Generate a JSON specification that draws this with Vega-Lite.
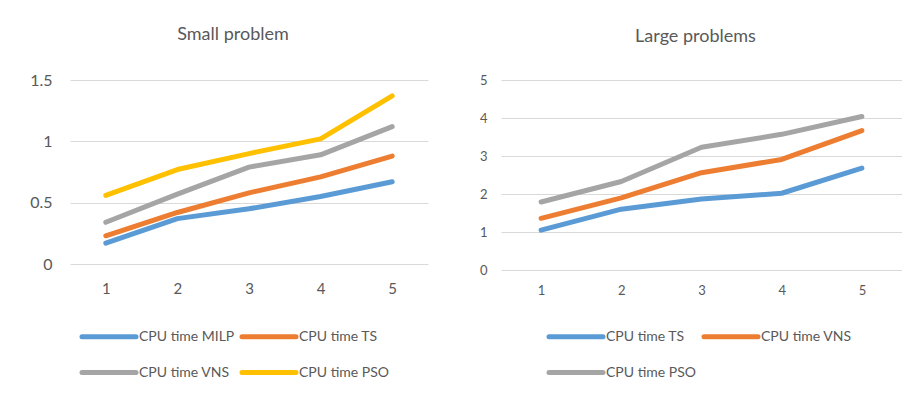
{
  "$schema": "https://vega.github.io/schema/vega-lite/v6.json",
  "padding": {"left": 0, "top": 26, "right": 0, "bottom": 0},
  "background": "white",
  "datasets": {
    "small": [
      {"x": 1, "series": "CPU time MILP", "value": 0.17},
      {"x": 2, "series": "CPU time MILP", "value": 0.37},
      {"x": 3, "series": "CPU time MILP", "value": 0.45},
      {"x": 4, "series": "CPU time MILP", "value": 0.55},
      {"x": 5, "series": "CPU time MILP", "value": 0.67},
      {"x": 1, "series": "CPU time TS", "value": 0.23},
      {"x": 2, "series": "CPU time TS", "value": 0.42},
      {"x": 3, "series": "CPU time TS", "value": 0.58},
      {"x": 4, "series": "CPU time TS", "value": 0.71},
      {"x": 5, "series": "CPU time TS", "value": 0.88},
      {"x": 1, "series": "CPU time VNS", "value": 0.34},
      {"x": 2, "series": "CPU time VNS", "value": 0.57},
      {"x": 3, "series": "CPU time VNS", "value": 0.79},
      {"x": 4, "series": "CPU time VNS", "value": 0.89},
      {"x": 5, "series": "CPU time VNS", "value": 1.12},
      {"x": 1, "series": "CPU time PSO", "value": 0.56},
      {"x": 2, "series": "CPU time PSO", "value": 0.77},
      {"x": 3, "series": "CPU time PSO", "value": 0.90},
      {"x": 4, "series": "CPU time PSO", "value": 1.02},
      {"x": 5, "series": "CPU time PSO", "value": 1.37}
    ],
    "large": [
      {"x": 1, "series": "CPU time TS", "value": 1.05},
      {"x": 2, "series": "CPU time TS", "value": 1.60},
      {"x": 3, "series": "CPU time TS", "value": 1.87},
      {"x": 4, "series": "CPU time TS", "value": 2.02},
      {"x": 5, "series": "CPU time TS", "value": 2.68},
      {"x": 1, "series": "CPU time VNS", "value": 1.36},
      {"x": 2, "series": "CPU time VNS", "value": 1.90},
      {"x": 3, "series": "CPU time VNS", "value": 2.56},
      {"x": 4, "series": "CPU time VNS", "value": 2.91},
      {"x": 5, "series": "CPU time VNS", "value": 3.67},
      {"x": 1, "series": "CPU time PSO", "value": 1.79},
      {"x": 2, "series": "CPU time PSO", "value": 2.33},
      {"x": 3, "series": "CPU time PSO", "value": 3.23},
      {"x": 4, "series": "CPU time PSO", "value": 3.57},
      {"x": 5, "series": "CPU time PSO", "value": 4.04}
    ]
  },
  "spacing": 0,
  "config": {
    "font": "Lato",
    "view": {"stroke": null},
    "title": {"font": "Lato", "fontSize": 18, "fontWeight": "normal", "color": "#595959"},
    "axis": {"labelFont": "Lato", "labelColor": "#595959", "domain": false, "ticks": false, "title": null, "gridColor": "#D9D9D9", "gridWidth": 1.2},
    "legend": {"labelFont": "Lato", "labelColor": "#595959", "labelFontSize": 14, "title": null}
  },
  "resolve": {"scale": {"color": "independent"}, "legend": {"color": "independent"}},
  "hconcat": [
    {
      "width": 358,
      "height": 184,
      "title": {"text": "Small problem", "anchor": "middle", "offset": 28, "dx": -16},
      "data": {"name": "small"},
      "mark": {"type": "line", "strokeWidth": 5, "strokeCap": "round", "strokeJoin": "round"},
      "encoding": {
        "x": {"field": "x", "type": "ordinal", "scale": {"type": "point", "padding": 0.5},
              "axis": {"labelAngle": 0, "labelFontSize": 15, "labelPadding": 17, "grid": false}},
        "y": {"field": "value", "type": "quantitative", "scale": {"domain": [0, 1.5], "nice": false},
              "axis": {"values": [0, 0.5, 1, 1.5], "format": "~g", "labelFontSize": 16, "labelPadding": 18, "minExtent": 70, "grid": true}},
        "color": {"field": "series", "type": "nominal",
                  "scale": {"domain": ["CPU time MILP", "CPU time TS", "CPU time VNS", "CPU time PSO"],
                            "range": ["#5B9BD5", "#ED7D31", "#A5A5A5", "#FFC000"]},
                  "legend": {"orient": "none", "legendX": 29.5, "legendY": 247, "direction": "horizontal", "columns": 2,
                             "symbolType": "M-4,0H4", "symbolSize": 182.25, "symbolStrokeWidth": 5, "rowPadding": 15, "columnPadding": -3,
                             "labelOffset": 20.5,
                             "encode": {"symbols": {"update": {"strokeCap": {"value": "round"}, "fill": {"value": "transparent"}}}}}}
      }
    },
    {
      "width": 401,
      "height": 190,
      "title": {"text": "Large problems", "anchor": "middle", "offset": 28, "dx": -6},
      "data": {"name": "large"},
      "mark": {"type": "line", "strokeWidth": 5, "strokeCap": "round", "strokeJoin": "round"},
      "encoding": {
        "x": {"field": "x", "type": "ordinal", "scale": {"type": "point", "padding": 0.5},
              "axis": {"labelAngle": 0, "labelFontSize": 13, "labelPadding": 14, "grid": false}},
        "y": {"field": "value", "type": "quantitative", "scale": {"domain": [0, 5], "nice": false},
              "axis": {"values": [0, 1, 2, 3, 4, 5], "labelFontSize": 13, "labelPadding": 14, "minExtent": 73, "grid": true}},
        "color": {"field": "series", "type": "nominal",
                  "scale": {"domain": ["CPU time TS", "CPU time VNS", "CPU time PSO"],
                            "range": ["#5B9BD5", "#ED7D31", "#A5A5A5"]},
                  "legend": {"orient": "none", "legendX": 65.5, "legendY": 247, "direction": "horizontal", "columns": 2,
                             "symbolType": "M-4,0H4", "symbolSize": 182.25, "symbolStrokeWidth": 5, "rowPadding": 15, "columnPadding": -3,
                             "labelOffset": 20.5,
                             "encode": {"symbols": {"update": {"strokeCap": {"value": "round"}, "fill": {"value": "transparent"}}}}}}
      }
    }
  ]
}
